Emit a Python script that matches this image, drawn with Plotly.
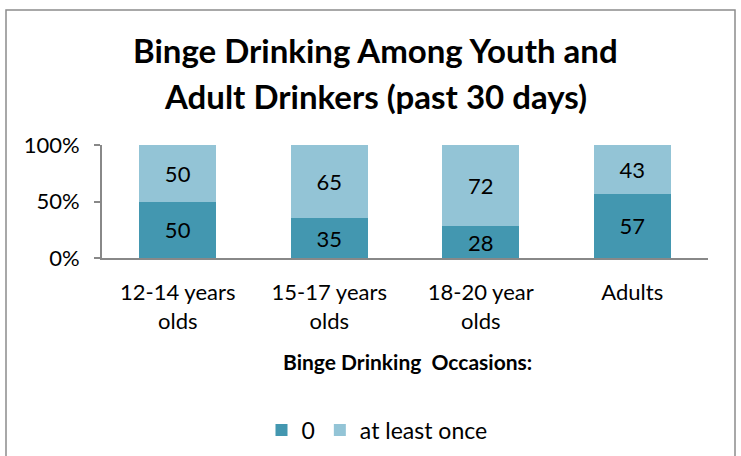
import plotly.graph_objects as go

categories = ["12-14 years<br>olds", "15-17 years<br>olds", "18-20 year<br>olds", "Adults"]
zero_vals = [50, 35, 28, 57]
once_vals = [50, 65, 72, 43]
series_names = ["0", "at least once"]
y_ticks = [0, 50, 100]
y_ticklabels = ["0%", "50%", "100%"]

FONT = "Lato"
dark = "#4397B0"
light = "#93C4D6"

fig = go.Figure()
fig.add_trace(go.Bar(x=categories, y=zero_vals, name=series_names[0], marker=dict(color=dark, line=dict(width=0)),
                     text=[str(v) for v in zero_vals], textposition="inside", insidetextanchor="middle",
                     textangle=0, textfont=dict(color="black", size=22, family=FONT)))
fig.add_trace(go.Bar(x=categories, y=once_vals, name=series_names[1], marker=dict(color=light, line=dict(width=0)),
                     text=[str(v) for v in once_vals], textposition="inside", insidetextanchor="middle",
                     textangle=0, textfont=dict(color="black", size=22, family=FONT)))

L, R, T, B = 102, 33, 145, 198
W, H = 741, 456
pw, ph = W - L - R, H - T - B

def px(x):
    return (x - L) / pw

def py(y):
    return (H - B - y) / ph

fig.update_layout(
    width=W, height=H,
    margin=dict(l=L, r=R, t=T, b=B, autoexpand=False),
    barmode="stack", bargap=0.49,
    uniformtext=dict(minsize=22, mode="show"),
    plot_bgcolor="white", paper_bgcolor="white",
    font=dict(family=FONT, color="black", size=22),
    showlegend=True,
    legend=dict(orientation="h", x=px(377), xanchor="center", y=py(430), yanchor="middle",
                font=dict(size=23, family=FONT), itemwidth=30, traceorder="normal"),
    xaxis=dict(showline=True, linecolor="#888888", linewidth=2, ticks="", tickfont=dict(size=22),
               ticklabelstandoff=14, showgrid=False, automargin=False),
    yaxis=dict(range=[0, 100], tickvals=y_ticks, ticktext=y_ticklabels, showline=True,
               linecolor="#888888", linewidth=2, ticks="outside", ticklen=6, tickcolor="#888888",
               tickwidth=2, ticklabelstandoff=10, showgrid=False, zeroline=False, tickfont=dict(size=22),
               automargin=False),
    annotations=[
        dict(text="<b>Binge Drinking Among Youth and</b>",
             xref="paper", yref="paper", x=px(375), y=py(50), xanchor="center", yanchor="middle",
             showarrow=False, font=dict(size=33, family=FONT)),
        dict(text="<b>Adult Drinkers (past 30 days)</b>",
             xref="paper", yref="paper", x=px(375), y=py(96), xanchor="center", yanchor="middle",
             showarrow=False, font=dict(size=33, family=FONT)),
        dict(text="<b>Binge Drinking  Occasions:</b>", xref="paper", yref="paper",
             x=px(407), y=py(361), xanchor="center", yanchor="middle", showarrow=False,
             font=dict(size=21, family=FONT)),
    ],
    shapes=[dict(type="rect", xref="paper", yref="paper", x0=px(6), x1=px(735), y0=py(470), y1=py(10),
                 line=dict(color="#8c8c8c", width=1.5), fillcolor="rgba(0,0,0,0)", layer="below")],
)
fig.write_html("out.html", config={"displayModeBar": False},
               post_script="document.body.style.margin='0';document.body.style.overflow='hidden';")
